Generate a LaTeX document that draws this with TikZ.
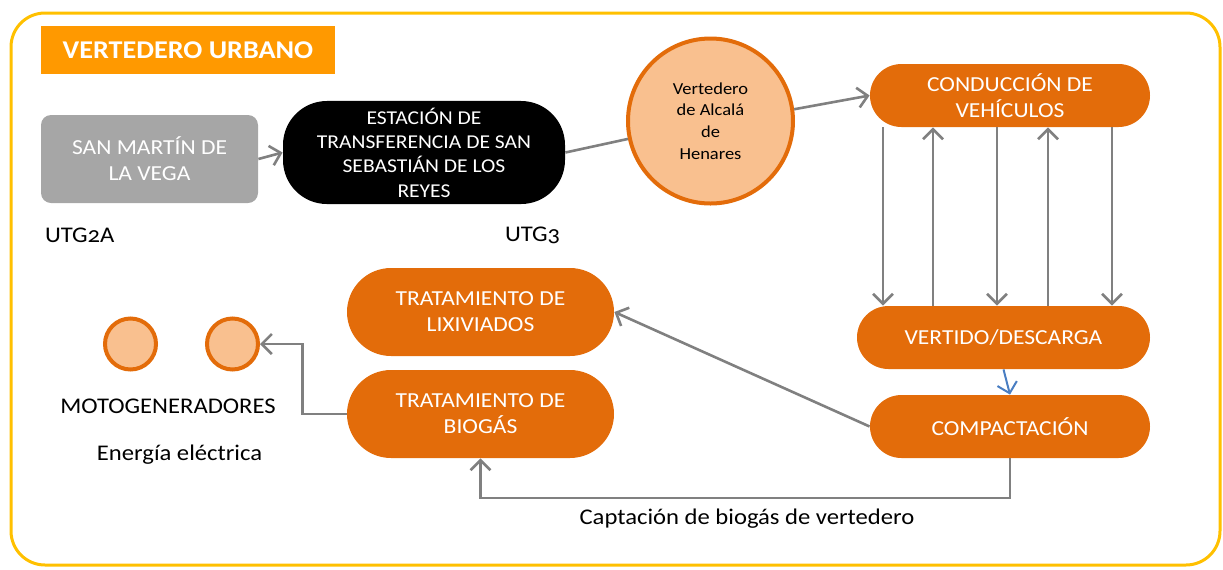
\documentclass[tikz,border=0pt]{standalone}
\usepackage{fontspec}
\setmainfont{Carlito}[Numbers=OldStyle, FakeStretch=1.1]
\usetikzlibrary{arrows.meta}

\definecolor{naranja}{HTML}{E36C0A}
\definecolor{melocoton}{HTML}{F9C08F}
\definecolor{titulo}{HTML}{FF9900}
\definecolor{marco}{HTML}{FFC000}
\definecolor{gris}{HTML}{A6A6A6}
\definecolor{flecha}{HTML}{808080}
\definecolor{azul}{HTML}{4A7EC2}

\tikzset{
  proceso/.style={rectangle, fill=naranja, text=white, align=center,
    font=\fontsize{10.7}{13}\selectfont, minimum height=#1, rounded corners=0.5*#1},
  proceso/.default=31.5pt,
  motor/.style={circle, draw=naranja, fill=melocoton, line width=2pt,
    minimum size=25.5pt, inner sep=0pt},
  etiqueta/.style={font=\fontsize{11.2}{13}\selectfont},
  conector/.style={draw=flecha, line width=1.3pt},
}

\begin{document}
\begin{tikzpicture}[x=0.5pt, y=-0.5pt, >={Straight Barb[length=5pt,width=10pt]}]

    \useasboundingbox (0,0) rectangle (1223,569);

    % Frame and title
    \draw[marco, line width=1.5pt, rounded corners=17pt] (11,13) rectangle (1220,565);
    \node[fill=titulo, text=white, minimum width=147pt, minimum height=24pt,
      font=\fontsize{12.8}{15}\selectfont\bfseries] (titulo) at (188,50) {VERTEDERO URBANO};

    % Origin and transfer station
    \node[fill=gris, text=white, rounded corners=5pt, align=center, minimum width=108.5pt,
      minimum height=44pt, font=\fontsize{10.7}{13}\selectfont] (sanmartin) at (149.5,159)
      {SAN MARTÍN DE\\LA VEGA};
    \node[fill=black, text=white, rounded corners=22pt, align=center, minimum width=141pt,
      minimum height=50.5pt, font=\fontsize{9.8}{12.2}\selectfont] (estacion) at (424,152.5)
      {ESTACIÓN DE\\TRANSFERENCIA DE SAN\\SEBASTIÁN DE LOS\\REYES};
    \node[etiqueta, anchor=west] (utgA) at (38,235) {UTG2A};
    \node[etiqueta, anchor=west] (utgB) at (498,235) {UTG3};

    % Landfill
    \node[circle, draw=naranja, fill=melocoton, line width=2pt, minimum size=82.5pt,
      align=center, inner sep=0pt, font=\fontsize{8.4}{10.85}\selectfont] (vertedero) at (710.5,121)
      {Vertedero\\de Alcalá\\de\\Henares};

    % Process steps
    \node[proceso, minimum width=140pt] (conduccion) at (1010,95.5) {CONDUCCIÓN DE\\VEHÍCULOS};
    \node[proceso, minimum width=146.5pt] (vertido) at (1003.5,337.5) {VERTIDO/DESCARGA};
    \node[proceso, minimum width=140pt] (compactacion) at (1010,426.5) {COMPACTACIÓN};
    \node[proceso=44pt, minimum width=133.5pt] (lixiviados) at (480.5,312) {TRATAMIENTO DE\\LIXIVIADOS};
    \node[proceso=44pt, minimum width=133.5pt] (biogas) at (480.5,414) {TRATAMIENTO DE\\BIOGÁS};

    % Generators
    \node[motor] (motoA) at (130.5,344) {};
    \node[motor] (motoB) at (232.5,344) {};
    \node[etiqueta] (motogen) at (168,406) {MOTOGENERADORES};
    \node[etiqueta] (energia) at (179.5,455) {Energía eléctrica};
    \node[etiqueta] (captacion) at (747,519) {Captación de biogás de vertedero};

    % Connections
    \draw[conector, ->] (sanmartin.east) -- (estacion.west);
    \draw[conector] (estacion.east) -- (vertedero);
    \draw[conector, ->] (vertedero.8) -- (conduccion.west);

    % Vehicles going and coming back
    \foreach \x in {883,997,1112}
        \draw[conector, ->] (conduccion.south -| \x,0) -- (vertido.north -| \x,0);
    \foreach \x in {933,1048}
        \draw[conector, ->] (vertido.north -| \x,0) -- (conduccion.south -| \x,0);

    \draw[->, azul, line width=1pt] (vertido.south) -- (compactacion.north);
    \draw[conector, ->] (compactacion.west) -- (lixiviados.east);
    \draw[conector, ->] (compactacion.south) -- (compactacion.south |- 0,498) -| (biogas.south);
    \draw[conector, ->] (biogas.west) -- ++(-44,0) |- (motoB.east);

\end{tikzpicture}
\end{document}
